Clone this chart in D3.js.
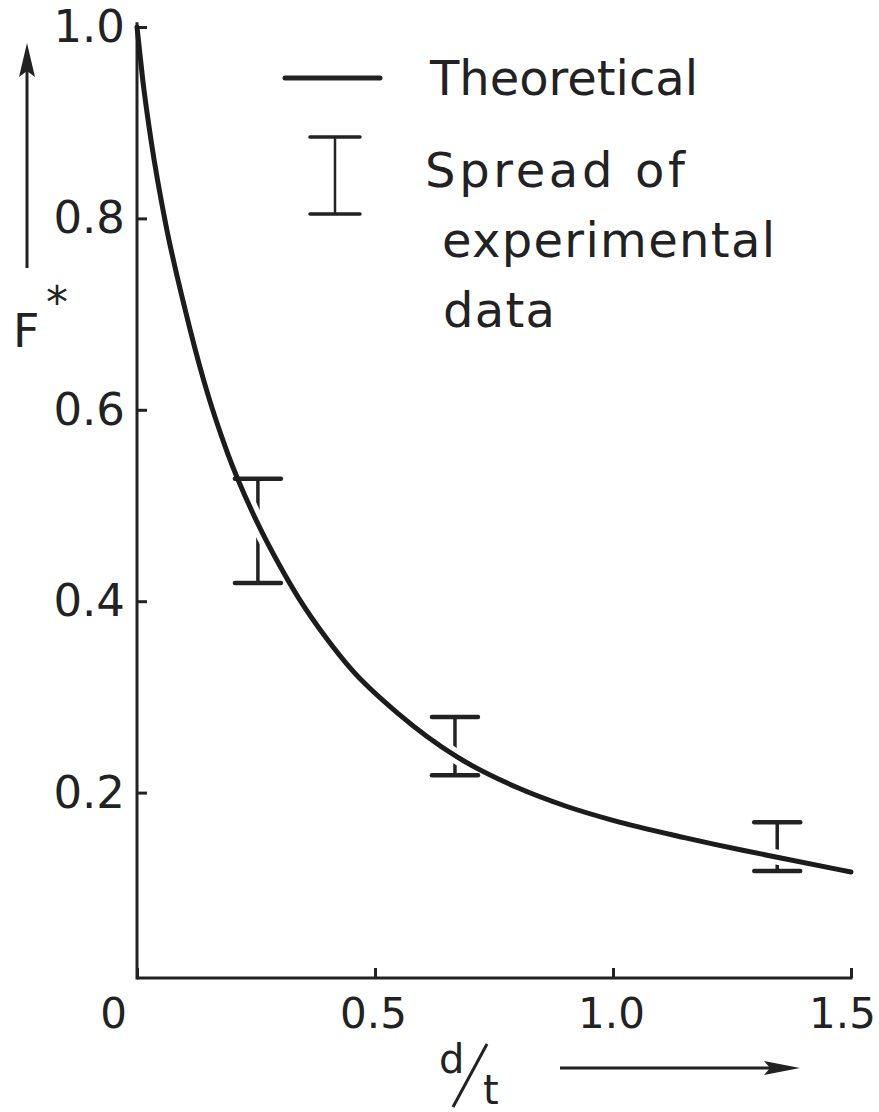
<!DOCTYPE html>
<html>
<head>
<meta charset="utf-8">
<script src="https://cdn.jsdelivr.net/npm/d3@7"></script>
<style>
  body { margin: 0; background: #fff; }
  text { font-family: "DejaVu Sans", sans-serif; fill: #222; }
</style>
</head>
<body>
<div id="chart"></div>
<script>
// Values
const xTicks = [0, 0.5, 1.0, 1.5];
const yTicks = [0.2, 0.4, 0.6, 0.8, 1.0];

// Theoretical curve, F* against d/t
const dt      = [0, 0.012, 0.03, 0.06, 0.10, 0.14, 0.19, 0.25, 0.30, 0.34, 0.40, 0.45, 0.55, 0.67, 0.80, 0.90, 1.0, 1.15, 1.27, 1.35, 1.5];
const fTheory = [1.0, 0.945, 0.88, 0.795, 0.707, 0.631, 0.555, 0.485, 0.437, 0.403, 0.360, 0.329, 0.282, 0.238, 0.205, 0.186, 0.171, 0.153, 0.140, 0.132, 0.117];

// Spread of experimental data
const barX    = [0.254, 0.668, 1.345];
const barLow  = [0.419, 0.218, 0.118];
const barHigh = [0.528, 0.279, 0.169];

const W = 879, H = 1112;
const ink = "#222";
const floorY = 978; // x axis line

const svg = d3.select("#chart").append("svg")
  .attr("width", W)
  .attr("height", H);

const x = d3.scaleLinear().domain([0, 1.5]).range([137, 851]);
const y = d3.scaleLinear().domain([0, 1]).range([984, 27]);

// === axes ===
const xAxis = d3.axisBottom(x)
  .tickValues(xTicks)
  .tickSize(-10)
  .tickSizeOuter(0)
  .tickPadding(20)
  .tickFormat(d => d === 0 ? "0" : d3.format(".1f")(d));

const gx = svg.append("g")
  .attr("transform", `translate(0,${floorY})`)
  .call(xAxis);
gx.select(".domain").remove();
gx.selectAll(".tick line").attr("stroke", ink).attr("stroke-width", 3);
gx.selectAll(".tick text")
  .attr("font-size", 42)
  .attr("fill", ink)
  .attr("x", d => d === 0 ? -24 : d === 1.5 ? -9 : -2);

const yAxis = d3.axisLeft(y)
  .tickValues(yTicks)
  .tickSize(-10)
  .tickSizeOuter(0)
  .tickPadding(12)
  .tickFormat(d3.format(".1f"));

const gy = svg.append("g")
  .attr("transform", `translate(${x(0)},0)`)
  .call(yAxis);
gy.select(".domain").remove();
gy.selectAll(".tick line").attr("stroke", ink).attr("stroke-width", 3);
gy.selectAll(".tick text").attr("font-size", 45).attr("fill", ink);

// axis lines
svg.append("line")
  .attr("x1", x(0)).attr("x2", x(0))
  .attr("y1", y(1.005)).attr("y2", floorY + 1.5)
  .attr("stroke", ink).attr("stroke-width", 3);
svg.append("line")
  .attr("x1", x(0)).attr("x2", x(1.5) + 1.5)
  .attr("y1", floorY).attr("y2", floorY)
  .attr("stroke", ink).attr("stroke-width", 3);

// === curve + error bars ===
const line = d3.line()
  .x((d, i) => x(dt[i]))
  .y(d => y(d))
  .curve(d3.curveMonotoneX);

// the vertical strokes of the bars are broken where the curve crosses them
const mask = svg.append("defs").append("mask").attr("id", "gap");
mask.append("rect").attr("width", W).attr("height", H).attr("fill", "#fff");
mask.append("path")
  .attr("d", line(fTheory))
  .attr("fill", "none")
  .attr("stroke", "#000")
  .attr("stroke-width", 15);

svg.append("g")
  .attr("mask", "url(#gap)")
  .selectAll("line")
  .data(barX)
  .enter()
  .append("line")
  .attr("x1", d => x(d)).attr("x2", d => x(d))
  .attr("y1", (d, i) => y(barHigh[i]))
  .attr("y2", (d, i) => y(barLow[i]))
  .attr("stroke", ink)
  .attr("stroke-width", 3.5);

const caps = svg.append("g");
[barHigh, barLow].forEach(vals => {
  caps.selectAll(null)
    .data(barX)
    .enter()
    .append("line")
    .attr("x1", d => x(d) - 23).attr("x2", d => x(d) + 23)
    .attr("y1", (d, i) => y(vals[i]))
    .attr("y2", (d, i) => y(vals[i]))
    .attr("stroke", ink)
    .attr("stroke-width", 4.5)
    .attr("stroke-linecap", "round");
});

svg.append("path")
  .datum(fTheory)
  .attr("fill", "none")
  .attr("stroke", "#1c1c1c")
  .attr("stroke-width", 5)
  .attr("stroke-linecap", "round")
  .attr("d", line);

// === axis titles ===
svg.append("text").attr("x", 13).attr("y", 347).attr("font-size", 46).text("F");
svg.append("text").attr("x", 46).attr("y", 318).attr("font-size", 44).text("*");
svg.append("line")
  .attr("x1", 27).attr("x2", 27).attr("y1", 268).attr("y2", 70)
  .attr("stroke", ink).attr("stroke-width", 3);
svg.append("path")
  .attr("d", "M27,43 L19,77 L27,71 L35,77 Z")
  .attr("fill", ink);

svg.append("text").attr("x", 439).attr("y", 1073).attr("font-size", 40).text("d");
svg.append("line")
  .attr("x1", 453).attr("y1", 1107).attr("x2", 487).attr("y2", 1044)
  .attr("stroke", ink).attr("stroke-width", 3);
svg.append("text").attr("x", 483).attr("y", 1104).attr("font-size", 40).text("t");
svg.append("line")
  .attr("x1", 560).attr("x2", 785).attr("y1", 1068).attr("y2", 1068)
  .attr("stroke", ink).attr("stroke-width", 3);
svg.append("path")
  .attr("d", "M800,1068 L764,1061 L770,1068 L764,1075 Z")
  .attr("fill", ink);

// === legend ===
svg.append("line")
  .attr("x1", 285).attr("x2", 380).attr("y1", 78).attr("y2", 78)
  .attr("stroke", ink).attr("stroke-width", 5).attr("stroke-linecap", "round");
svg.append("text").attr("x", 430).attr("y", 95).attr("font-size", 48)
  .attr("textLength", 268).attr("lengthAdjust", "spacing").text("Theoretical");

svg.append("line")
  .attr("x1", 335).attr("x2", 335).attr("y1", 137).attr("y2", 214)
  .attr("stroke", ink).attr("stroke-width", 2.5);
[137, 214].forEach(v => {
  svg.append("line")
    .attr("x1", 310).attr("x2", 360).attr("y1", v).attr("y2", v)
    .attr("stroke", ink).attr("stroke-width", 3.5).attr("stroke-linecap", "round");
});

svg.append("text").attr("x", 425).attr("y", 187).attr("font-size", 48)
  .attr("textLength", 260).attr("lengthAdjust", "spacing").text("Spread of");
svg.append("text").attr("x", 442).attr("y", 257).attr("font-size", 48)
  .attr("textLength", 333).attr("lengthAdjust", "spacing").text("experimental");
svg.append("text").attr("x", 443).attr("y", 327).attr("font-size", 48)
  .attr("textLength", 112).attr("lengthAdjust", "spacing").text("data");
</script>
</body>
</html>
